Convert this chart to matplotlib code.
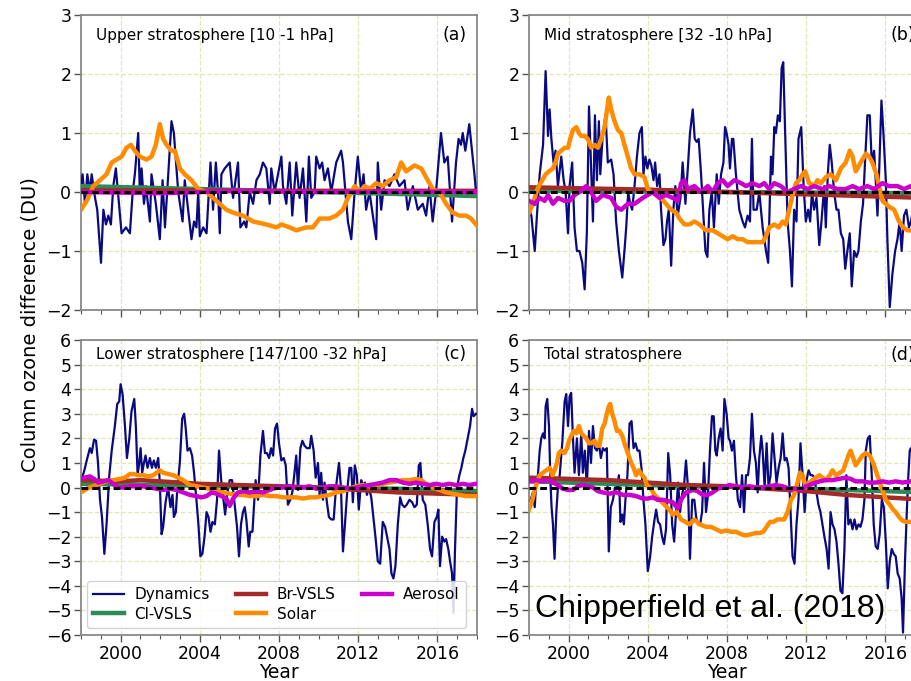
import matplotlib
matplotlib.use("Agg")
import matplotlib.pyplot as plt
from matplotlib.ticker import MultipleLocator

# ---------------- data ----------------
# (a) Upper stratosphere
a_dyn_t = [1998.00, 1998.08, 1998.20, 1998.32, 1998.45, 1998.54, 1998.71, 1998.82, 1999.01, 1999.13,
           1999.26, 1999.38, 1999.51, 1999.63, 1999.76, 2000.05, 2000.27, 2000.47, 2000.61, 2000.72,
           2000.89, 2000.97, 2001.06, 2001.18, 2001.28, 2001.48, 2001.56, 2001.78, 2001.98, 2002.12,
           2002.24, 2002.37, 2002.57, 2002.69, 2002.91, 2003.13, 2003.24, 2003.58, 2003.71, 2003.83,
           2003.92, 2004.00, 2004.17, 2004.34, 2004.54, 2004.67, 2004.81, 2004.92, 2005.01, 2005.09,
           2005.26, 2005.51, 2005.68, 2005.93, 2006.05, 2006.24, 2006.35, 2006.52, 2006.69, 2006.86,
           2007.03, 2007.19, 2007.36, 2007.53, 2007.61, 2007.78, 2008.12, 2008.20, 2008.37, 2008.54,
           2008.67, 2008.87, 2009.04, 2009.21, 2009.38, 2009.51, 2009.63, 2009.80, 2009.88, 2010.05,
           2010.18, 2010.30, 2010.47, 2010.64, 2010.89, 2011.14, 2011.23, 2011.48, 2011.65, 2011.82,
           2011.98, 2012.15, 2012.27, 2012.40, 2012.57, 2012.74, 2012.91, 2012.99, 2013.16, 2013.33,
           2013.58, 2013.83, 2014.08, 2014.34, 2014.50, 2014.76, 2015.01, 2015.26, 2015.43, 2015.60,
           2015.76, 2015.93, 2016.18, 2016.35, 2016.52, 2016.74, 2016.94, 2017.07, 2017.19, 2017.28,
           2017.41, 2017.61, 2017.87, 2017.95]
a_dyn_v = [0.1, 0.3, -0.2, 0.3, 0.0, 0.3, -0.1, -0.3, -1.2, -0.3,
           -0.55, -0.4, -0.55, 0.1, 0.4, -0.7, -0.6, -0.7, 0.0, 0.3,
           1.0, 0.0, 0.4, -0.2, 0.1, -0.5, 0.3, -0.2, -0.8, 0.2,
           -0.6, 0.1, 1.2, 1.0, 0.0, -0.5, 0.2, -0.8, -0.5, -0.6,
           0.0, -0.75, -0.6, -0.7, 0.5, -0.3, 0.5, 0.0, -0.7, 0.3,
           0.4, 0.5, -0.1, 0.5, -0.6, -0.5, -0.6, 0.0, -0.2, 0.2,
           0.3, 0.5, 0.4, -0.2, 0.4, 0.0, 0.6, 0.1, -0.2, 0.5,
           -0.4, 0.5, -0.1, 0.4, -0.5, 0.6, -0.1, 0.0, 0.6, 0.4,
           0.5, 0.2, 0.4, 0.0, 0.5, 0.7, 0.5, -0.5, -0.8, 0.0,
           0.6, 0.0, 0.3, -0.3, 0.0, -0.4, -0.8, 0.5, -0.3, 0.2,
           0.1, 0.3, 0.1, 0.2, -0.3, 0.1, -0.3, -0.2, -0.4, 0.1,
           -0.5, 0.0, 1.0, 0.5, 0.6, -0.5, 0.5, 0.9, 0.8, 1.0,
           0.7, 1.15, 0.3, 0.0]
a_sol_t = [1998.00, 1998.29, 1998.62, 1998.96, 1999.29, 1999.55, 1999.80, 2000.05, 2000.30, 2000.52,
           2000.72, 2000.97, 2001.31, 2001.56, 2001.78, 2001.98, 2002.15, 2002.32, 2002.57, 2002.74,
           2002.99, 2003.24, 2003.58, 2003.92, 2004.34, 2004.84, 2005.34, 2005.68, 2006.18, 2006.69,
           2007.36, 2007.87, 2008.12, 2008.54, 2008.87, 2009.38, 2009.71, 2010.05, 2010.55, 2010.89,
           2011.23, 2011.48, 2011.82, 2012.07, 2012.32, 2012.57, 2012.91, 2013.24, 2013.58, 2013.92,
           2014.17, 2014.42, 2014.84, 2015.18, 2015.51, 2015.76, 2016.10, 2016.44, 2016.77, 2017.11,
           2017.45, 2017.70, 2017.95]
a_sol_v = [-0.3, -0.15, 0.1, 0.2, 0.3, 0.5, 0.55, 0.6, 0.75, 0.8,
           0.7, 0.6, 0.55, 0.6, 0.8, 1.15, 0.9, 0.8, 0.7, 0.7,
           0.4, 0.3, 0.2, 0.05, 0.0, -0.15, -0.3, -0.35, -0.4, -0.5,
           -0.55, -0.6, -0.55, -0.6, -0.65, -0.6, -0.6, -0.45, -0.45, -0.4,
           -0.3, -0.1, 0.1, 0.0, 0.1, 0.05, 0.15, 0.1, 0.2, 0.25,
           0.5, 0.35, 0.45, 0.4, 0.2, 0.05, 0.0, -0.2, -0.35, -0.4,
           -0.4, -0.45, -0.55]
a_cl_t = [1998.0, 2004.0, 2010.0, 2016.0, 2018.0]
a_cl_v = [0.1, 0.05, 0.0, -0.05, -0.07]
a_br_t = [1998.0, 2008.0, 2018.0]
a_br_v = [0.03, 0.02, 0.02]
a_aer_t = [1998.0, 2002.0, 2006.0, 2010.0, 2014.0, 2018.0]
a_aer_v = [0.0, -0.02, 0.02, 0.0, 0.01, 0.0]

# (b) Mid stratosphere
b_dyn_t = [1998.00, 1998.12, 1998.29, 1998.40, 1998.54, 1998.71, 1998.84, 1998.96, 1999.04, 1999.13,
           1999.24, 1999.34, 1999.46, 1999.63, 1999.75, 1999.85, 1999.97, 2000.05, 2000.18, 2000.30,
           2000.42, 2000.55, 2000.69, 2000.81, 2000.92, 2001.03, 2001.14, 2001.23, 2001.33, 2001.43,
           2001.53, 2001.60, 2001.73, 2001.87, 2001.98, 2002.15, 2002.27, 2002.40, 2002.54, 2002.71,
           2002.82, 2002.91, 2003.01, 2003.11, 2003.21, 2003.33, 2003.45, 2003.58, 2003.70, 2003.78,
           2003.88, 2003.98, 2004.08, 2004.18, 2004.29, 2004.37, 2004.47, 2004.59, 2004.67, 2004.79,
           2004.89, 2004.97, 2005.06, 2005.18, 2005.29, 2005.39, 2005.51, 2005.65, 2005.76, 2005.90,
           2006.02, 2006.13, 2006.27, 2006.37, 2006.47, 2006.57, 2006.69, 2006.81, 2006.91, 2007.01,
           2007.11, 2007.23, 2007.34, 2007.48, 2007.58, 2007.70, 2007.82, 2007.90, 2007.98, 2008.08,
           2008.15, 2008.25, 2008.32, 2008.45, 2008.62, 2008.79, 2008.91, 2009.04, 2009.16, 2009.26,
           2009.34, 2009.50, 2009.63, 2009.80, 2009.97, 2010.08, 2010.22, 2010.30, 2010.39, 2010.47,
           2010.57, 2010.67, 2010.76, 2010.84, 2010.94, 2011.06, 2011.18, 2011.28, 2011.39, 2011.51,
           2011.61, 2011.75, 2011.87, 2011.98, 2012.10, 2012.20, 2012.29, 2012.40, 2012.52, 2012.66,
           2012.77, 2012.91, 2012.99, 2013.09, 2013.19, 2013.29, 2013.41, 2013.53, 2013.63, 2013.75,
           2013.87, 2013.97, 2014.08, 2014.20, 2014.30, 2014.42, 2014.54, 2014.64, 2014.76, 2014.87,
           2014.97, 2015.09, 2015.21, 2015.31, 2015.43, 2015.51, 2015.60, 2015.68, 2015.80, 2015.90,
           2016.02, 2016.10, 2016.22, 2016.35, 2016.49, 2016.61, 2016.72, 2016.82, 2016.94, 2017.06,
           2017.19, 2017.29, 2017.45]
b_dyn_v = [-0.3, -0.4, -1.0, -0.4, 0.3, 0.8, 2.05, 0.95, 1.4, 0.9,
           0.5, 0.7, 0.1, 0.6, 0.2, 0.0, -0.7, 0.1, 0.5, -0.6,
           -1.0, -1.0, -1.2, -1.65, -0.7, 1.45, 0.4, -0.5, 1.3, 0.2,
           1.2, 0.3, 1.0, 1.3, 0.5, 0.55, 0.3, -0.5, -1.0, -1.45,
           -1.0, -0.6, 0.0, -0.2, -0.3, 0.1, 0.6, 1.0, 1.1, 0.3,
           0.6, 0.4, 0.55, 0.45, 0.2, 0.5, 0.1, 0.3, -0.3, -0.9,
           -0.8, -0.5, -0.3, -1.25, -0.3, 0.1, -0.4, -0.1, 0.5, -0.2,
           0.4, 1.0, 1.4, 0.9, 0.85, 0.9, 0.3, -0.4, -1.0, -1.1,
           -0.3, 0.0, -0.6, 0.3, -0.2, 0.3, 0.5, 1.1, 1.0, 0.8,
           0.4, 0.9, 0.9, 0.3, -0.3, -0.5, -0.6, -0.4, -0.5, 0.9,
           -0.3, -0.3, 0.0, -0.6, -1.0, -1.2, 0.6, 0.3, 1.1, 1.0,
           1.3, 1.2, 2.1, 2.2, 1.0, -0.5, -1.0, -1.6, -0.3, -0.5,
           0.9, 1.1, 0.1, -0.5, -0.3, -0.5, 0.0, -0.3, -0.1, -0.9,
           -0.5, 0.1, -0.6, 0.3, 0.8, 0.5, 0.0, -0.3, -0.3, -0.7,
           -0.8, -1.3, -1.0, -0.7, -1.6, -1.0, -1.1, -1.0, -0.5, -0.2,
           0.5, 1.3, 1.3, 0.5, 0.7, 0.2, -0.4, 0.3, 1.55, 1.0,
           0.2, -0.8, -1.95, -1.4, -1.0, -0.8, -0.5, -1.0, -0.4, -0.3,
           -0.6, -0.5, -0.2]
b_sol_t = [1998.00, 1998.20, 1998.37, 1998.50, 1998.67, 1998.84, 1999.01, 1999.21, 1999.34, 1999.46,
           1999.63, 1999.80, 1999.97, 2000.08, 2000.22, 2000.39, 2000.52, 2000.64, 2000.81, 2000.97,
           2001.14, 2001.31, 2001.48, 2001.65, 2001.82, 2001.90, 2002.03, 2002.15, 2002.32, 2002.49,
           2002.66, 2002.82, 2002.99, 2003.16, 2003.33, 2003.58, 2003.83, 2004.00, 2004.17, 2004.42,
           2004.67, 2004.92, 2005.18, 2005.43, 2005.60, 2005.85, 2006.10, 2006.35, 2006.61, 2006.94,
           2007.28, 2007.53, 2007.78, 2008.03, 2008.29, 2008.54, 2008.79, 2009.04, 2009.29, 2009.55,
           2009.80, 2009.97, 2010.13, 2010.39, 2010.61, 2010.81, 2010.97, 2011.14, 2011.31, 2011.48,
           2011.65, 2011.82, 2011.95, 2012.15, 2012.40, 2012.57, 2012.74, 2012.99, 2013.24, 2013.50,
           2013.75, 2014.00, 2014.20, 2014.34, 2014.50, 2014.67, 2014.84, 2015.01, 2015.18, 2015.34,
           2015.55, 2015.68, 2015.85, 2016.02, 2016.18, 2016.44, 2016.69, 2016.89, 2017.11, 2017.29,
           2017.45]
b_sol_v = [-0.35, -0.2, 0.0, 0.1, 0.2, 0.3, 0.35, 0.4, 0.5, 0.65,
           0.7, 0.75, 0.75, 0.9, 1.05, 1.1, 1.0, 0.95, 0.95, 0.9,
           0.75, 0.8, 0.75, 0.9, 1.1, 1.3, 1.6, 1.4, 1.2, 1.05,
           1.0, 0.8, 0.6, 0.4, 0.3, 0.3, 0.25, 0.05, 0.0, -0.05,
           -0.1, -0.2, -0.3, -0.35, -0.45, -0.55, -0.55, -0.5, -0.55, -0.65,
           -0.65, -0.7, -0.75, -0.8, -0.75, -0.8, -0.8, -0.85, -0.85, -0.85,
           -0.85, -0.75, -0.6, -0.55, -0.6, -0.5, -0.55, -0.3, -0.05, 0.15,
           0.2, 0.3, 0.35, 0.15, 0.1, 0.2, 0.15, 0.25, 0.3, 0.2,
           0.4, 0.5, 0.7, 0.6, 0.35, 0.45, 0.55, 0.65, 0.6, 0.5,
           0.3, 0.1, -0.15, -0.2, -0.25, -0.3, -0.5, -0.6, -0.65, -0.65,
           -0.65]
b_aer_t = [1998.00, 1998.29, 1998.54, 1998.79, 1998.96, 1999.21, 1999.46, 1999.80, 2000.05, 2000.30,
           2000.55, 2000.89, 2001.14, 2001.39, 2001.73, 2002.15, 2002.40, 2002.66, 2002.99, 2003.33,
           2003.75, 2004.00, 2004.25, 2004.59, 2004.92, 2005.26, 2005.51, 2005.68, 2005.85, 2006.02,
           2006.35, 2006.69, 2007.03, 2007.28, 2007.53, 2007.78, 2008.03, 2008.37, 2008.71, 2008.96,
           2009.29, 2009.63, 2009.88, 2010.13, 2010.39, 2010.72, 2011.06, 2011.39, 2011.73, 2012.07,
           2012.40, 2012.82, 2013.16, 2013.58, 2014.00, 2014.34, 2014.67, 2015.09, 2015.43, 2015.85,
           2016.18, 2016.61, 2016.94, 2017.29, 2017.45]
b_aer_v = [-0.15, -0.2, -0.1, -0.15, -0.05, -0.2, -0.1, -0.15, -0.15, -0.05,
           0.0, 0.1, 0.0, -0.15, -0.05, -0.1, -0.25, -0.3, -0.2, -0.2,
           -0.1, -0.05, 0.0, -0.1, -0.05, -0.1, -0.15, 0.15, 0.2, 0.05,
           0.1, 0.0, 0.1, 0.0, 0.15, 0.2, 0.1, 0.2, 0.15, 0.1,
           0.15, 0.1, 0.15, 0.05, 0.15, 0.1, 0.0, 0.05, 0.1, 0.05,
           0.1, 0.05, 0.1, 0.05, 0.05, 0.1, 0.05, 0.1, 0.05, 0.15,
           0.1, 0.1, 0.05, 0.1, 0.05]
b_cl_t = [1998.0, 2008.0, 2018.0]
b_cl_v = [0.02, 0.0, -0.02]
b_br_t = [1998.0, 2004.0, 2010.0, 2018.0]
b_br_v = [0.08, 0.04, -0.02, -0.1]

# (c) Lower stratosphere
c_dyn_t = [1998.00, 1998.20, 1998.32, 1998.45, 1998.54, 1998.66, 1998.76, 1998.86, 1998.96, 1999.06,
           1999.18, 1999.29, 1999.43, 1999.55, 1999.71, 1999.83, 1999.93, 2000.00, 2000.10, 2000.22,
           2000.32, 2000.44, 2000.55, 2000.69, 2000.77, 2000.86, 2000.94, 2001.01, 2001.09, 2001.18,
           2001.26, 2001.36, 2001.48, 2001.58, 2001.68, 2001.78, 2001.90, 2001.98, 2002.07, 2002.15,
           2002.27, 2002.40, 2002.52, 2002.62, 2002.69, 2002.79, 2002.87, 2002.99, 2003.11, 2003.21,
           2003.29, 2003.38, 2003.50, 2003.61, 2003.71, 2003.83, 2003.93, 2004.03, 2004.13, 2004.24,
           2004.34, 2004.44, 2004.54, 2004.64, 2004.76, 2004.87, 2004.97, 2005.08, 2005.18, 2005.28,
           2005.38, 2005.51, 2005.63, 2005.76, 2005.88, 2005.98, 2006.08, 2006.18, 2006.27, 2006.35,
           2006.47, 2006.55, 2006.66, 2006.74, 2006.82, 2006.94, 2007.06, 2007.19, 2007.29, 2007.39,
           2007.50, 2007.60, 2007.70, 2007.80, 2007.90, 2008.00, 2008.12, 2008.24, 2008.34, 2008.45,
           2008.57, 2008.67, 2008.77, 2008.87, 2008.96, 2009.08, 2009.18, 2009.29, 2009.41, 2009.55,
           2009.63, 2009.75, 2009.85, 2009.97, 2010.05, 2010.13, 2010.22, 2010.30, 2010.42, 2010.52,
           2010.64, 2010.76, 2010.89, 2011.03, 2011.13, 2011.23, 2011.33, 2011.46, 2011.56, 2011.65,
           2011.73, 2011.83, 2011.93, 2012.03, 2012.15, 2012.24, 2012.34, 2012.44, 2012.54, 2012.66,
           2012.74, 2012.87, 2012.99, 2013.11, 2013.24, 2013.36, 2013.46, 2013.58, 2013.68, 2013.78,
           2013.88, 2014.00, 2014.12, 2014.22, 2014.34, 2014.45, 2014.59, 2014.72, 2014.84, 2014.96,
           2015.06, 2015.14, 2015.26, 2015.39, 2015.51, 2015.63, 2015.73, 2015.85, 2015.97, 2016.05,
           2016.13, 2016.24, 2016.35, 2016.44, 2016.55, 2016.64, 2016.74, 2016.81, 2016.89, 2016.99,
           2017.11, 2017.21, 2017.31, 2017.41, 2017.53, 2017.65, 2017.75, 2017.83, 2017.95]
c_dyn_v = [0.2, 0.8, 1.2, 1.6, 1.4, 1.95, 1.9, 1.0, -0.5, -1.2,
           -2.7, -1.5, 0.5, 1.5, 2.5, 3.4, 3.5, 4.2, 3.8, 2.5,
           1.2, 2.0, 3.1, 3.6, 2.5, 0.5, 1.0, 1.6, 0.6, 1.0,
           1.3, 0.8, 1.2, 0.8, 1.1, 0.8, 1.2, 0.2, -1.9, -1.6,
           -0.6, 0.0, -0.8, -0.3, -1.2, -1.0, 0.0, 1.0, 2.8, 3.0,
           2.4, 1.5, 1.6, 1.3, 0.6, -0.5, -1.5, -2.8, -2.7, -2.0,
           -1.0, -1.2, -1.8, -1.4, -1.5, -0.5, 1.5, 0.3, -0.4, -1.1,
           -0.3, 0.3, 0.3, -0.7, -1.6, -2.8, -1.5, -1.0, -0.8, -1.3,
           -2.4, -1.8, -1.8, -0.7, 0.3, -0.5, 1.3, 2.3, 1.4, 1.4,
           1.2, 1.6, 1.3, 2.4, 2.6, 1.8, 1.1, 1.2, 0.9, -0.7,
           -0.5, -0.2, 0.5, 1.3, -0.1, 1.6, 1.9, 1.7, 1.6, 1.6,
           2.1, 1.5, 0.4, 1.0, -0.3, 0.6, -0.5, 0.2, -0.6, -1.2,
           -1.3, -1.3, 0.1, 1.0, 0.0, -2.6, -1.5, 0.0, 0.8, 0.8,
           -0.6, 0.9, 0.5, -0.9, 0.3, 0.1, 0.2, -0.3, 0.0, -0.4,
           -1.0, -2.0, -3.0, -3.1, -1.4, -1.6, -2.0, -2.5, -3.5, -3.7,
           -3.2, -1.5, -0.4, -0.7, -0.8, -0.7, -0.5, -0.6, -0.8, -0.7,
           0.9, 1.0, -0.5, -0.7, -1.5, -2.5, -2.8, -1.4, -1.2, -0.9,
           -3.2, -2.0, -2.2, -2.1, -2.5, -3.0, -3.5, -5.1, -2.5, 0.0,
           0.5, 0.8, 1.2, 1.5, 2.0, 2.5, 3.2, 2.9, 3.0]
c_sol_t = [1998.00, 1998.29, 1998.62, 1998.96, 1999.29, 1999.63, 1999.97, 2000.22, 2000.47, 2000.64,
           2000.89, 2001.14, 2001.39, 2001.65, 2001.82, 2001.98, 2002.15, 2002.40, 2002.66, 2002.91,
           2003.16, 2003.50, 2003.83, 2004.17, 2004.50, 2004.84, 2005.18, 2005.51, 2005.85, 2006.18,
           2006.52, 2006.86, 2007.19, 2007.53, 2007.87, 2008.20, 2008.54, 2008.87, 2009.21, 2009.55,
           2009.88, 2010.22, 2010.55, 2010.89, 2011.23, 2011.56, 2011.90, 2012.24, 2012.57, 2012.91,
           2013.24, 2013.58, 2013.92, 2014.25, 2014.59, 2014.92, 2015.18, 2015.43, 2015.76, 2016.10,
           2016.44, 2016.77, 2017.11, 2017.45, 2017.95]
c_sol_v = [-0.2, -0.05, 0.05, 0.15, 0.25, 0.3, 0.35, 0.4, 0.55, 0.55,
           0.5, 0.5, 0.45, 0.5, 0.6, 0.7, 0.6, 0.55, 0.5, 0.4,
           0.3, 0.1, 0.05, 0.0, -0.05, -0.1, -0.2, -0.25, -0.3, -0.3,
           -0.35, -0.35, -0.3, -0.35, -0.35, -0.4, -0.4, -0.4, -0.45, -0.4,
           -0.4, -0.35, -0.3, -0.2, -0.15, -0.05, 0.05, 0.1, 0.05, 0.1,
           0.15, 0.2, 0.25, 0.3, 0.3, 0.35, 0.3, 0.15, 0.0, -0.1,
           -0.2, -0.25, -0.3, -0.35, -0.35]
c_aer_t = [1998.00, 1998.20, 1998.45, 1998.66, 1998.87, 1999.13, 1999.38, 1999.55, 1999.71, 1999.88,
           2000.13, 2000.47, 2000.81, 2001.14, 2001.48, 2001.82, 2002.15, 2002.49, 2002.82, 2003.16,
           2003.50, 2003.83, 2004.08, 2004.34, 2004.59, 2004.84, 2005.09, 2005.34, 2005.51, 2005.68,
           2005.93, 2006.18, 2006.52, 2006.86, 2007.19, 2007.53, 2007.87, 2008.20, 2008.54, 2008.87,
           2009.21, 2009.55, 2009.88, 2010.22, 2010.55, 2010.89, 2011.23, 2011.56, 2011.90, 2012.24,
           2012.57, 2012.91, 2013.24, 2013.58, 2013.92, 2014.25, 2014.59, 2014.92, 2015.26, 2015.60,
           2015.93, 2016.27, 2016.61, 2016.94, 2017.28, 2017.61, 2017.95]
c_aer_v = [0.4, 0.4, 0.45, 0.35, 0.2, 0.25, 0.3, 0.2, 0.1, 0.0,
           0.0, 0.05, 0.05, 0.05, 0.0, -0.05, -0.1, -0.05, -0.1, -0.2,
           -0.3, -0.35, -0.4, -0.35, -0.2, -0.25, -0.35, -0.45, -0.75, -0.45,
           -0.2, -0.15, -0.2, -0.15, -0.2, -0.1, 0.0, 0.0, 0.05, 0.0,
           0.0, 0.05, -0.05, 0.0, 0.05, 0.05, 0.0, -0.05, 0.0, 0.05,
           0.1, 0.15, 0.2, 0.3, 0.3, 0.2, 0.15, 0.2, 0.15, 0.1,
           0.15, 0.1, 0.15, 0.1, 0.15, 0.1, 0.15]
c_br_t = [1998.0, 2000.0, 2001.0, 2002.0, 2003.0, 2004.0, 2006.0, 2008.0, 2010.0, 2012.0, 2014.0, 2016.0, 2018.0]
c_br_v = [0.3, 0.25, 0.3, 0.25, 0.2, 0.15, 0.1, 0.05, 0.0, -0.1, -0.2, -0.25, -0.3]
c_cl_t = [1998.0, 2002.0, 2006.0, 2010.0, 2014.0, 2018.0]
c_cl_v = [0.15, 0.1, 0.05, 0.0, -0.05, -0.15]

# (d) Total stratosphere
d_dyn_t = [1998.00, 1998.12, 1998.20, 1998.29, 1998.37, 1998.45, 1998.54, 1998.62, 1998.71, 1998.79,
           1998.84, 1998.92, 1999.01, 1999.08, 1999.14, 1999.21, 1999.29, 1999.38, 1999.46, 1999.55,
           1999.68, 1999.80, 1999.88, 1999.97, 2000.05, 2000.13, 2000.22, 2000.30, 2000.42, 2000.52,
           2000.64, 2000.72, 2000.82, 2000.92, 2001.03, 2001.13, 2001.23, 2001.33, 2001.43, 2001.53,
           2001.63, 2001.73, 2001.83, 2001.93, 2002.03, 2002.13, 2002.24, 2002.34, 2002.44, 2002.54,
           2002.62, 2002.71, 2002.79, 2002.87, 2002.97, 2003.08, 2003.18, 2003.28, 2003.38, 2003.48,
           2003.58, 2003.68, 2003.78, 2003.88, 2004.00, 2004.12, 2004.22, 2004.34, 2004.42, 2004.52,
           2004.62, 2004.72, 2004.82, 2004.92, 2005.03, 2005.13, 2005.23, 2005.33, 2005.43, 2005.53,
           2005.63, 2005.73, 2005.83, 2005.93, 2006.03, 2006.13, 2006.24, 2006.35, 2006.44, 2006.54,
           2006.64, 2006.74, 2006.84, 2006.94, 2007.04, 2007.14, 2007.24, 2007.33, 2007.41, 2007.48,
           2007.58, 2007.68, 2007.78, 2007.87, 2007.98, 2008.08, 2008.15, 2008.25, 2008.35, 2008.45,
           2008.55, 2008.66, 2008.76, 2008.86, 2008.96, 2009.06, 2009.16, 2009.26, 2009.36, 2009.46,
           2009.55, 2009.63, 2009.73, 2009.80, 2009.90, 2010.00, 2010.10, 2010.20, 2010.30, 2010.40,
           2010.50, 2010.61, 2010.71, 2010.81, 2010.91, 2011.01, 2011.11, 2011.21, 2011.31, 2011.41,
           2011.51, 2011.61, 2011.71, 2011.82, 2011.92, 2012.02, 2012.12, 2012.22, 2012.32, 2012.42,
           2012.52, 2012.62, 2012.72, 2012.82, 2012.92, 2013.03, 2013.13, 2013.23, 2013.33, 2013.43,
           2013.53, 2013.63, 2013.73, 2013.83, 2013.93, 2014.03, 2014.13, 2014.24, 2014.34, 2014.44,
           2014.54, 2014.64, 2014.74, 2014.84, 2014.94, 2015.01, 2015.11, 2015.21, 2015.31, 2015.41,
           2015.51, 2015.61, 2015.71, 2015.82, 2015.92, 2016.02, 2016.12, 2016.22, 2016.32, 2016.42,
           2016.52, 2016.62, 2016.72, 2016.82, 2016.89, 2016.99, 2017.08, 2017.16, 2017.23, 2017.29,
           2017.45]
d_dyn_v = [-0.9, -0.4, -0.2, -0.8, 0.3, 0.5, 1.5, 2.0, 2.2, 2.0,
           3.3, 3.6, 2.5, 0.3, -0.8, -1.5, -2.9, -1.0, 0.0, 0.5,
           1.8, 3.5, 3.8, 2.5, 3.7, 3.85, 2.0, 0.6, 2.0, 0.5,
           2.2, 0.6, 1.5, 0.0, 2.3, 1.0, 2.5, 1.6, 1.5, 1.8,
           1.2, 1.6, 1.5, 1.6, -2.6, -0.8, -0.5, 0.0, 0.0, 0.5,
           -1.4, -1.1, -1.5, -0.5, 0.5, 2.6, 2.7, 1.6, 1.8, 1.5,
           1.5, 0.8, -0.5, -1.5, -3.4, -2.8, -2.0, -1.3, -0.9, -1.4,
           -1.5, -2.0, -2.3, -1.7, 1.4, 0.5, -1.5, -2.2, -1.0, 0.2,
           -1.0, -0.3, 0.1, 1.1, 0.0, -2.9, -0.5, -0.5, -1.2, -1.5,
           -1.5, -1.0, 1.0, -1.0, -0.3, 1.5, 2.9, 2.9, 1.5, 1.3,
           2.0, 2.4, 1.5, 3.6, 3.0, 2.0, 1.9, 1.5, 1.9, 0.5,
           -0.5, -0.8, 0.5, -1.0, 0.5, 0.5, 1.2, 3.0, 1.5, 1.0,
           -0.2, 1.2, 2.1, 1.5, 0.0, 1.8, 0.0, 0.5, 2.2, 1.2,
           0.2, 0.8, 1.2, 2.2, 1.1, 1.2, 0.8, -1.0, -2.8, -3.1,
           -1.5, -0.5, 1.8, 0.5, -1.0, 0.3, 0.7, 0.5, 0.5, 0.4,
           -0.2, -0.7, -1.0, -1.5, -2.0, -2.5, -3.3, -1.0, -1.5, -1.7,
           -2.2, -3.1, -4.2, -4.3, -2.5, 0.5, -1.5, -1.3, -1.7, -1.3,
           -1.7, -1.5, -1.6, -1.3, -0.5, 1.5, 2.0, 2.1, 0.5, -1.5,
           -2.4, -2.5, -1.9, -0.5, -0.8, -2.2, -4.1, -3.0, -2.5, -2.7,
           -2.8, -3.5, -3.7, -4.5, -5.9, -3.0, -1.0, 0.5, 1.5, 1.6,
           1.2]
d_sol_t = [1998.00, 1998.17, 1998.29, 1998.40, 1998.54, 1998.71, 1998.87, 1999.04, 1999.18, 1999.29,
           1999.41, 1999.51, 1999.63, 1999.80, 1999.92, 2000.02, 2000.13, 2000.27, 2000.39, 2000.52,
           2000.64, 2000.76, 2000.89, 2001.03, 2001.14, 2001.31, 2001.43, 2001.56, 2001.70, 2001.82,
           2001.90, 2002.03, 2002.10, 2002.20, 2002.32, 2002.44, 2002.57, 2002.71, 2002.82, 2002.99,
           2003.16, 2003.28, 2003.41, 2003.55, 2003.71, 2003.83, 2003.95, 2004.12, 2004.34, 2004.59,
           2004.84, 2005.09, 2005.26, 2005.46, 2005.68, 2005.90, 2006.10, 2006.35, 2006.61, 2006.94,
           2007.19, 2007.45, 2007.70, 2007.95, 2008.20, 2008.45, 2008.71, 2008.96, 2009.21, 2009.46,
           2009.66, 2009.83, 2010.00, 2010.17, 2010.34, 2010.55, 2010.72, 2010.89, 2011.06, 2011.23,
           2011.39, 2011.56, 2011.68, 2011.82, 2011.98, 2012.15, 2012.32, 2012.49, 2012.66, 2012.82,
           2012.99, 2013.19, 2013.33, 2013.50, 2013.70, 2013.87, 2014.00, 2014.13, 2014.24, 2014.37,
           2014.50, 2014.67, 2014.84, 2015.01, 2015.21, 2015.38, 2015.55, 2015.68, 2015.85, 2016.02,
           2016.22, 2016.39, 2016.52, 2016.69, 2016.86, 2017.03, 2017.29, 2017.45]
d_sol_v = [-0.9, -0.5, -0.1, 0.2, 0.5, 0.6, 0.7, 0.8, 0.5, 0.7,
           1.0, 1.4, 1.5, 1.4, 1.6, 1.9, 2.1, 2.3, 2.2, 2.5,
           2.2, 2.1, 2.0, 1.8, 1.8, 1.9, 1.7, 1.7, 2.4, 2.6,
           2.9, 3.3, 3.4, 3.0, 2.7, 2.3, 2.3, 2.1, 1.8, 1.4,
           1.0, 0.8, 0.5, 0.7, 0.5, 0.4, 0.1, 0.0, -0.3, -0.5,
           -0.7, -0.9, -1.1, -1.0, -1.3, -1.4, -1.5, -1.3, -1.5, -1.6,
           -1.6, -1.7, -1.8, -1.75, -1.8, -1.8, -1.9, -1.95, -1.9, -1.85,
           -1.85, -1.8, -1.6, -1.4, -1.4, -1.3, -1.3, -1.3, -1.0, -0.5,
           -0.3, 0.2, 0.6, 0.5, 0.0, 0.2, 0.3, 0.4, 0.5, 0.4,
           0.3, 0.5, 0.7, 0.5, 0.6, 0.7, 1.0, 1.3, 1.5, 1.2,
           0.9, 1.1, 1.3, 1.4, 1.3, 1.0, 0.6, 0.3, -0.1, -0.5,
           -0.7, -0.9, -1.0, -1.2, -1.35, -1.4, -1.4, -1.4]
d_aer_t = [1998.00, 1998.37, 1998.71, 1998.96, 1999.21, 1999.46, 1999.71, 1999.97, 2000.22, 2000.47,
           2000.72, 2000.97, 2001.23, 2001.48, 2001.73, 2002.07, 2002.40, 2002.74, 2003.08, 2003.41,
           2003.75, 2004.00, 2004.25, 2004.50, 2004.76, 2005.01, 2005.26, 2005.51, 2005.68, 2005.93,
           2006.27, 2006.52, 2006.77, 2007.03, 2007.28, 2007.53, 2007.78, 2008.12, 2008.45, 2008.79,
           2009.13, 2009.46, 2009.80, 2010.13, 2010.47, 2010.81, 2011.14, 2011.48, 2011.73, 2011.98,
           2012.32, 2012.66, 2012.99, 2013.33, 2013.66, 2014.00, 2014.25, 2014.50, 2014.84, 2015.18,
           2015.51, 2015.85, 2016.18, 2016.52, 2016.86, 2017.29, 2017.45]
d_aer_v = [0.25, 0.3, 0.25, 0.3, 0.2, 0.1, -0.05, -0.1, -0.1, 0.05,
           0.1, 0.05, 0.0, -0.15, -0.2, -0.25, -0.2, -0.3, -0.3, -0.35,
           -0.45, -0.45, -0.4, -0.5, -0.5, -0.55, -0.6, -0.85, -0.5, -0.2,
           -0.1, -0.15, -0.3, -0.3, -0.2, -0.05, 0.0, 0.1, 0.05, 0.0,
           0.05, 0.0, 0.0, 0.05, 0.1, 0.05, -0.05, -0.05, -0.1, 0.05,
           0.15, 0.25, 0.3, 0.3, 0.35, 0.4, 0.35, 0.25, 0.25, 0.2,
           0.2, 0.25, 0.2, 0.25, 0.2, 0.25, 0.25]
d_br_t = [1998.0, 2000.0, 2002.0, 2004.0, 2006.0, 2008.0, 2010.0, 2012.0, 2014.0, 2016.0, 2018.0]
d_br_v = [0.4, 0.35, 0.3, 0.2, 0.1, 0.05, -0.05, -0.15, -0.3, -0.4, -0.5]
d_cl_t = [1998.0, 2002.0, 2006.0, 2010.0, 2014.0, 2016.0, 2018.0]
d_cl_v = [0.25, 0.15, 0.05, 0.0, -0.1, -0.15, -0.2]

panel_titles = ["Upper stratosphere [10 -1 hPa]", "Mid stratosphere [32 -10 hPa]",
                "Lower stratosphere [147/100 -32 hPa]", "Total stratosphere"]
panel_tags = ["(a)", "(b)", "(c)", "(d)"]
series_names = ["Dynamics", "Cl-VSLS", "Br-VSLS", "Solar", "Aerosol"]
year_ticks = [2000, 2004, 2008, 2012, 2016]

# ---------------- figure ----------------
plt.rcParams['font.family'] = ['DejaVu Sans']
W, H = 912, 681
fig = plt.figure(figsize=(W / 100, H / 100), dpi=100)

def rect(left, top, w=396, h=295):
    return [left / W, 1 - (top + h) / H, w / W, h / H]

axes = [fig.add_axes(rect(81, 15)), fig.add_axes(rect(529, 15)),
        fig.add_axes(rect(81, 340)), fig.add_axes(rect(529, 340))]

panels = [
    dict(dyn=(a_dyn_t, a_dyn_v), cl=(a_cl_t, a_cl_v), br=(a_br_t, a_br_v),
         sol=(a_sol_t, a_sol_v), aer=(a_aer_t, a_aer_v), ylim=(-2, 3), title_y=0.932),
    dict(dyn=(b_dyn_t, b_dyn_v), cl=(b_cl_t, b_cl_v), br=(b_br_t, b_br_v),
         sol=(b_sol_t, b_sol_v), aer=(b_aer_t, b_aer_v), ylim=(-2, 3), title_y=0.932),
    dict(dyn=(c_dyn_t, c_dyn_v), cl=(c_cl_t, c_cl_v), br=(c_br_t, c_br_v),
         sol=(c_sol_t, c_sol_v), aer=(c_aer_t, c_aer_v), ylim=(-6, 6), title_y=0.952),
    dict(dyn=(d_dyn_t, d_dyn_v), cl=(d_cl_t, d_cl_v), br=(d_br_t, d_br_v),
         sol=(d_sol_t, d_sol_v), aer=(d_aer_t, d_aer_v), ylim=(-6, 6), title_y=0.950),
]

colors = dict(dyn='#0a0a80', cl='#2e8b57', br='#a52a2a', sol='#ff8c00', aer='#cc00cc')

for i, (ax, p) in enumerate(zip(axes, panels)):
    ax.plot(*p['dyn'], color=colors['dyn'], lw=1.6, label=series_names[0], zorder=3)
    ax.plot(*p['cl'], color=colors['cl'], lw=3.2, label=series_names[1], zorder=4)
    ax.plot(*p['br'], color=colors['br'], lw=3.2, label=series_names[2], zorder=4)
    ax.plot(*p['sol'], color=colors['sol'], lw=3.2, label=series_names[3], zorder=5)
    ax.plot(*p['aer'], color=colors['aer'], lw=3.2, label=series_names[4], zorder=6)
    ax.axhline(0, color='black', lw=2.2, dashes=(2.2, 1.3), zorder=7)

    ax.set_xlim(1998, 2018)
    ax.set_ylim(*p['ylim'])
    ax.set_xticks(year_ticks)
    ax.xaxis.set_minor_locator(MultipleLocator(1))
    ax.yaxis.set_major_locator(MultipleLocator(1))
    ax.grid(True, which='major', color='#e2e8b4', ls='--', lw=0.9)
    ax.set_axisbelow(True)
    for s in ax.spines.values():
        s.set_color('#888888')
        s.set_linewidth(1.3)
    ax.tick_params(axis='both', which='major', direction='out', length=5, width=1,
                   color='#555555', labelsize=12.5, pad=2)
    ax.tick_params(axis='x', which='minor', direction='out', length=3, width=0.8,
                   color='#555555')
    if i < 2:
        ax.tick_params(axis='x', labelbottom=False)
    else:
        ax.set_xlabel('Year', fontsize=13.5, labelpad=0)

    ax.text(0.038, p['title_y'], panel_titles[i], transform=ax.transAxes,
            fontsize=11, va='center', ha='left', zorder=10)
    ax.text(0.975, p['title_y'], panel_tags[i], transform=ax.transAxes,
            fontsize=12.5, va='center', ha='right', zorder=10)

leg = axes[2].legend(loc='lower left', bbox_to_anchor=(0.015, 0.024), borderaxespad=0,
                     ncol=3, fontsize=11, handlelength=2.0, handletextpad=0.7,
                     columnspacing=1.7, labelspacing=0.3, framealpha=0.85,
                     edgecolor='#cccccc')
for h in leg.get_lines():
    h.set_linewidth(3.2)
leg.get_lines()[0].set_linewidth(1.6)

fig.text(30 / W, 1 - 325 / H, 'Column ozone difference (DU)', rotation=90,
         fontsize=14, ha='center', va='center')
fig.text(535 / W, 1 - 617 / H, 'Chipperfield et al. (2018)', fontsize=23,
         family=['Liberation Sans', 'DejaVu Sans'], ha='left', va='baseline', zorder=20)

fig.savefig('out.png', dpi=100)
